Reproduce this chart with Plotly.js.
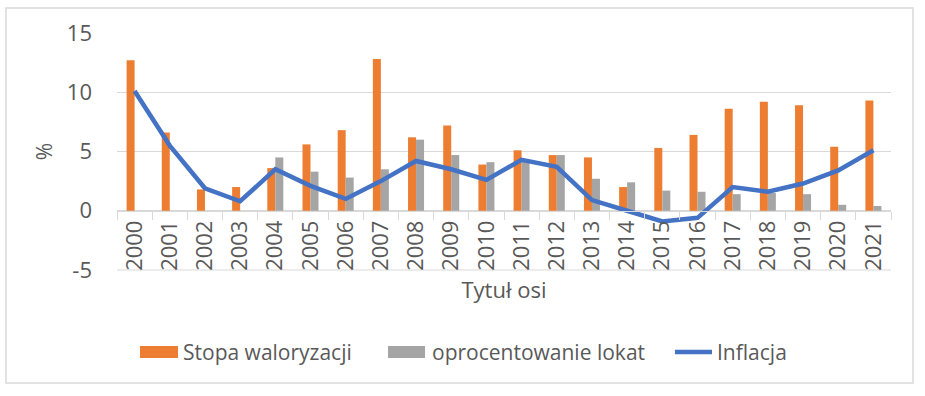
<!DOCTYPE html>
<html>
<head>
<meta charset="utf-8">
<script src="https://cdn.plot.ly/plotly-3.0.1.min.js"></script>
<style>html,body{margin:0;padding:0;background:#fff;}#chart{width:925px;height:396px;}</style>
</head>
<body>
<div id="chart"></div>
<script>
const years = ["2000","2001","2002","2003","2004","2005","2006","2007","2008","2009","2010","2011","2012","2013","2014","2015","2016","2017","2018","2019","2020","2021"];
const stopaWaloryzacji = [12.7, 6.6, 1.8, 2.0, 3.6, 5.6, 6.8, 12.8, 6.2, 7.2, 3.9, 5.1, 4.7, 4.5, 2.0, 5.3, 6.4, 8.6, 9.2, 8.9, 5.4, 9.3];
const oprocentowanieLokat = [0, 0, 0, 0, 4.5, 3.3, 2.8, 3.5, 6.0, 4.7, 4.1, 4.2, 4.7, 2.7, 2.4, 1.7, 1.6, 1.4, 1.5, 1.4, 0.5, 0.4];
const inflacja = [10.1, 5.5, 1.9, 0.8, 3.5, 2.1, 1.0, 2.5, 4.2, 3.5, 2.6, 4.3, 3.7, 0.9, 0.0, -0.9, -0.6, 2.0, 1.6, 2.3, 3.4, 5.1];
const yTicks = [-5, 0, 5, 10, 15];
const seriesNames = ["Stopa waloryzacji", "oprocentowanie lokat", "Inflacja"];
const colors = ["#ED7D31", "#A5A5A5", "#4472C4"];

const txt = "#595959";
const fontFam = "'Open Sans', 'Noto Sans', sans-serif";

const traces = [
  {type: "bar", name: seriesNames[0], x: years, y: stopaWaloryzacji, marker: {color: colors[0]}, showlegend: false},
  {type: "bar", name: seriesNames[1], x: years, y: oprocentowanieLokat, marker: {color: colors[1]}, showlegend: false},
  {type: "scatter", mode: "lines", name: seriesNames[2], x: years, y: inflacja, line: {color: colors[2], width: 4.5}, showlegend: false}
];

// pixel -> paper helpers for legend/border decoration
const L = 117, R = 34, T = 33, B = 126, W = 925, H = 396;
const pw = W - L - R, ph = H - T - B;
const px = v => (v - L) / pw;
const py = v => (H - B - v) / ph;

const shapes = [
  {type: "rect", xref: "paper", yref: "paper", x0: px(6), x1: px(913), y0: py(383), y1: py(8), line: {color: "#D9D9D9", width: 1.5}, fillcolor: "rgba(0,0,0,0)", layer: "below"},
  {type: "rect", xref: "paper", yref: "paper", x0: px(140), x1: px(178), y0: py(358), y1: py(346), line: {width: 0}, fillcolor: colors[0]},
  {type: "rect", xref: "paper", yref: "paper", x0: px(388), x1: px(425), y0: py(358), y1: py(346), line: {width: 0}, fillcolor: colors[1]},
  {type: "line", xref: "paper", yref: "paper", x0: px(675), x1: px(712), y0: py(352), y1: py(352), line: {color: colors[2], width: 4.5}},
  {type: "line", xref: "paper", yref: "paper", x0: 0, x1: 1, y0: 0, y1: 0, line: {color: "#D9D9D9", width: 1}, layer: "below"}
];
const legendX = [181, 430, 715];
const annotations = seriesNames.map((n, i) => ({
  xref: "paper", yref: "paper", x: px(legendX[i]), y: py(352), xanchor: "left", yanchor: "middle",
  text: n, showarrow: false, font: {family: fontFam, size: 21, color: txt}
}));

const layout = {
  width: W, height: H,
  margin: {l: L, r: R, t: T, b: B, pad: 0},
  paper_bgcolor: "#fff", plot_bgcolor: "#fff",
  barmode: "group", bargap: 0.545, bargroupgap: 0,
  showlegend: false,
  xaxis: {
    type: "category", anchor: "free", position: 0.25,
    showline: true, linecolor: "#D9D9D9", linewidth: 1,
    ticks: "outside", tickson: "boundaries", ticklen: 8, tickcolor: "#D9D9D9",
    tickangle: -90, tickfont: {family: fontFam, size: 22, color: txt},
    showgrid: false, zeroline: false,
    title: {text: "Tytuł osi", font: {family: fontFam, size: 22, color: txt}, standoff: 12}
  },
  yaxis: {
    range: [-5, 15], tickvals: yTicks, ticktext: yTicks.map(String),
    showgrid: true, gridcolor: "#D9D9D9", gridwidth: 1,
    zeroline: false, showline: false, ticks: "",
    ticklabelstandoff: 24,
    tickfont: {family: fontFam, size: 22, color: txt},
    title: {text: "%", font: {family: fontFam, size: 21, color: txt}, standoff: 8}
  },
  shapes: shapes,
  annotations: annotations
};

Plotly.newPlot("chart", traces, layout, {displayModeBar: false, staticPlot: true});
</script>
</body>
</html>
